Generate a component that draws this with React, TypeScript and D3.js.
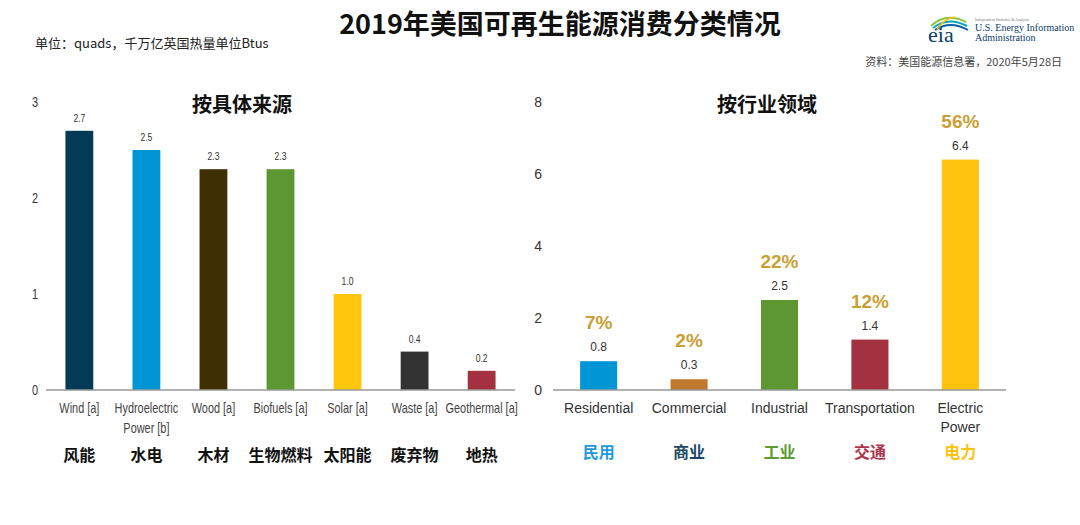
import React from "react";
import * as d3 from "d3";

const sourceCategories = ["Wind [a]", "Hydroelectric\nPower [b]", "Wood [a]", "Biofuels [a]", "Solar [a]", "Waste [a]", "Geothermal [a]"];
const sourceChinese = ["风能", "水电", "木材", "生物燃料", "太阳能", "废弃物", "地热"];
const sourceValues = [2.7, 2.5, 2.3, 2.3, 1.0, 0.4, 0.2];
const sourceColors = ["#033A56", "#0096D6", "#3E3002", "#5D9732", "#FFC60B", "#333333", "#A3313F"];
const sourceTicks = [0, 1, 2, 3];

const sectorCategories = ["Residential", "Commercial", "Industrial", "Transportation", "Electric\nPower"];
const sectorChinese = ["民用", "商业", "工业", "交通", "电力"];
const sectorValues = [0.8, 0.3, 2.5, 1.4, 6.4];
const sectorShares = ["7%", "2%", "22%", "12%", "56%"];
const sectorColors = ["#0096D6", "#BF7A30", "#5D9732", "#A3313F", "#FFC20E"];
const sectorChineseColors = ["#1E9BD7", "#1B4965", "#5E9B35", "#B0344A", "#FFC20E"];
const sectorTicks = [0, 2, 4, 6, 8];

const W = 1080;
const H = 525;
const CJK = "'Noto Sans CJK SC', 'Noto Sans', sans-serif";
const SANS = "'Liberation Sans', Arial, 'Noto Sans', sans-serif";

function Narrow(props: { x: number; y: number; size: number; fill: string; anchor?: string; children: React.ReactNode }) {
  const { x, y, size, fill, anchor = "middle", children } = props;
  return (
    <text
      transform={`translate(${x},${y}) scale(0.78,1)`}
      textAnchor={anchor as any}
      fontFamily={SANS}
      fontSize={size}
      fill={fill}
    >
      {children}
    </text>
  );
}

export default function App() {
  const xL = d3.scaleBand<string>().domain(sourceCategories).range([46, 515]).paddingInner(0.585).paddingOuter(0.29);
  const yL = d3.scaleLinear().domain([0, 3]).range([390, 102]);
  const xR = d3.scaleBand<string>().domain(sectorCategories).range([553, 1006]).paddingInner(0.59).paddingOuter(0.3);
  const yR = d3.scaleLinear().domain([0, 8]).range([390, 102]);

  return (
    <svg width={W} height={H} style={{ position: "absolute", left: 0, top: 0, background: "#fff" }}>
      <rect x={0} y={0} width={W} height={H} fill="#fff" />
      {/* Title */}
      <text x={560} y={34} textAnchor="middle" fontFamily={CJK} fontWeight={700} fontSize={27} fill="#111">
        2019年美国可再生能源消费分类情况
      </text>
      <text x={35} y={48} fontFamily={CJK} fontSize={13} fill="#222">
        单位：quads，千万亿英国热量单位Btus
      </text>
      <text x={1062} y={66} textAnchor="end" fontFamily={CJK} fontSize={11} fill="#444">
        资料：美国能源信息署，2020年5月28日
      </text>
      {/* EIA logo */}
      <g>
        <path d="M931,26 Q946,12 966,22" stroke="#8DC63F" strokeWidth={2} fill="none" />
        <path d="M933,28 Q948,16 967,26" stroke="#00A3C4" strokeWidth={2} fill="none" />
        <path d="M935,30 Q950,20 968,30" stroke="#0B5CA6" strokeWidth={2} fill="none" />
        <path d="M937,29 Q945,18 955,17" stroke="#F2C200" strokeWidth={1.5} fill="none" />
        <text x={928} y={42} fontFamily="'Liberation Serif', 'DejaVu Serif', serif" fontSize={22} fill="#0B3D6B">eia</text>
        <text x={975} y={21} fontFamily="'Liberation Serif', serif" fontSize={4} fill="#777">Independent Statistics &amp; Analysis</text>
        <text x={975} y={31} fontFamily="'Liberation Serif', serif" fontSize={10} fill="#0B3D6B">U.S. Energy Information</text>
        <text x={975} y={41} fontFamily="'Liberation Serif', serif" fontSize={10} fill="#0B3D6B">Administration</text>
      </g>

      {/* Left chart */}
      <text x={242} y={112} textAnchor="middle" fontFamily={CJK} fontWeight={700} fontSize={20} fill="#111">按具体来源</text>
      {sourceTicks.map((t) => (
        <Narrow key={t} x={38} y={yL(t) + 5} size={14} fill="#333" anchor="end">{t}</Narrow>
      ))}
      {sourceCategories.map((c, i) => {
        const x = xL(c)!;
        const bw = xL.bandwidth();
        const cx = x + bw / 2;
        const lines = c.split("\n");
        return (
          <g key={c}>
            <rect x={x} y={yL(sourceValues[i])} width={bw} height={yL(0) - yL(sourceValues[i])} fill={sourceColors[i]} />
            <Narrow x={cx} y={yL(sourceValues[i]) - 9} size={11} fill="#333">
              {sourceValues[i].toFixed(1)}
            </Narrow>
            {lines.map((l, k) => (
              <Narrow key={k} x={cx} y={413 + k * 20} size={14} fill="#444">{l}</Narrow>
            ))}
            <text x={cx} y={461} textAnchor="middle" fontFamily={CJK} fontWeight={700} fontSize={16} fill="#111">{sourceChinese[i]}</text>
          </g>
        );
      })}
      <line x1={46} x2={515} y1={yL(0)} y2={yL(0)} stroke="#999" strokeWidth={1.5} />

      {/* Right chart */}
      <text x={767} y={112} textAnchor="middle" fontFamily={CJK} fontWeight={700} fontSize={20} fill="#111">按行业领域</text>
      {sectorTicks.map((t) => (
        <text key={t} x={542} y={yR(t) + 5} textAnchor="end" fontFamily={SANS} fontSize={14} fill="#333">{t}</text>
      ))}
      {sectorCategories.map((c, i) => {
        const x = xR(c)!;
        const bw = xR.bandwidth();
        const cx = x + bw / 2;
        const lines = c.split("\n");
        const top = yR(sectorValues[i]);
        return (
          <g key={c}>
            <rect x={x} y={top} width={bw} height={yR(0) - top} fill={sectorColors[i]} />
            <text x={cx} y={top - 10} textAnchor="middle" fontFamily={SANS} fontSize={12} fill="#333">
              {sectorValues[i].toFixed(1)}
            </text>
            <text x={cx} y={top - 32} textAnchor="middle" fontFamily={SANS} fontWeight={700} fontSize={19} fill="#C9A033">
              {sectorShares[i]}
            </text>
            {lines.map((l, k) => (
              <text key={k} x={cx} y={413 + k * 19} textAnchor="middle" fontFamily={SANS} fontSize={14} fill="#333">{l}</text>
            ))}
            <text x={cx} y={458} textAnchor="middle" fontFamily={CJK} fontWeight={700} fontSize={16} fill={sectorChineseColors[i]}>{sectorChinese[i]}</text>
          </g>
        );
      })}
      <line x1={553} x2={1006} y1={yR(0)} y2={yR(0)} stroke="#999" strokeWidth={1.5} />
    </svg>
  );
}
